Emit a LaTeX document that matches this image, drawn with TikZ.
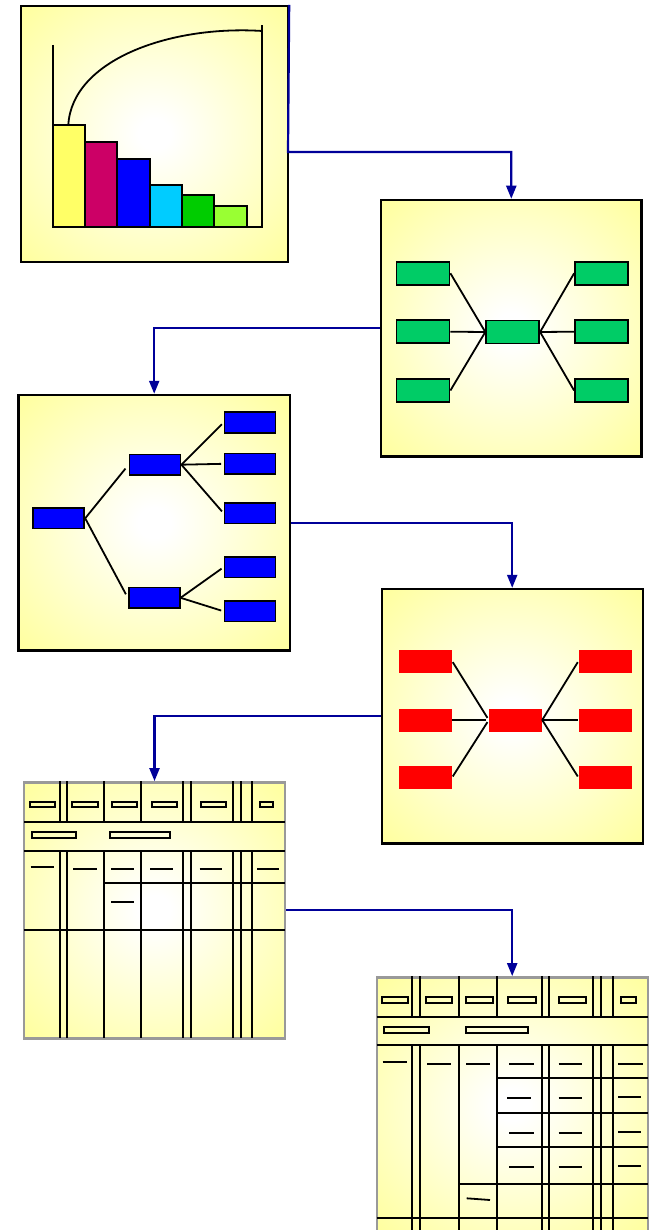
\documentclass[tikz,border=0pt]{standalone}
\usetikzlibrary{arrows.meta}
\definecolor{pyellow}{HTML}{FFFF99}
\definecolor{linkblue}{HTML}{000099}
\definecolor{boxgreen}{HTML}{00CC66}
\definecolor{framegray}{HTML}{999999}
\pgfdeclareradialshading{glow}{\pgfpoint{0bp}{0bp}}{color(0bp)=(white); color(3bp)=(white); color(37bp)=(pyellow); color(50bp)=(pyellow)}
\begin{document}
\begin{tikzpicture}[x=1pt, y=-1pt,
        panel/.style = {draw, line width=2.4pt, shading=glow, inner sep=0pt},
        grid/.style = {draw=framegray, line width=2.4pt, shading=glow, inner sep=0pt},
        gbox/.style = {draw, line width=1.8pt, fill=boxgreen, inner sep=0pt, minimum width=53pt, minimum height=23pt},
        bbox/.style = {draw, line width=1.8pt, fill=blue, inner sep=0pt, minimum width=51pt, minimum height=20.5pt},
        rbox/.style = {fill=red, inner sep=0pt, minimum width=53pt, minimum height=23pt},
        link/.style = {draw=linkblue, line width=2.2pt, -{Triangle[width=10pt,length=13pt]}},
        rule/.style = {line width=1.8pt}]
                \useasboundingbox (0,0) rectangle (651,1230);
                \clip (0,0) rectangle (651,1230);
                % the six panels
                \node[panel, minimum width=267pt, minimum height=256pt] (pareto) at (154.5,134) {};
                \node[panel, minimum width=260.7pt, minimum height=256.7pt] (fish) at (511.3,328.3) {};
                \node[panel, minimum width=271.7pt, minimum height=255.7pt] (tree) at (154.2,522.8) {};
                \node[panel, minimum width=261pt, minimum height=254.3pt] (web) at (512.2,716.2) {};
                \node[grid, minimum width=261pt, minimum height=256pt] (tab) at (154.5,910.3) {};
                \node[grid, minimum width=271pt, minimum height=256pt] (bigtab) at (512.2,1105.3) {};
                % connectors
                \coordinate (k1) at (288,152);
                \draw[link] (pareto.north east) -- (k1) -| (fish.north);
                \draw[link] (fish.west) -| (tree.north);
                \draw[link] (tree.east) -| (web.north);
                \draw[link] (web.west) -| (tab.north);
                \draw[link] (tab.east) -| (bigtab.north);
                % pareto chart
                \draw[rule, fill={rgb,255:red,255;green,255;blue,102}] (52.7,226.7) rectangle (85,125);
                \draw[rule, fill={rgb,255:red,204;green,0;blue,102}] (85,226.7) rectangle (117.3,142.3);
                \draw[rule, fill=blue] (117.3,226.7) rectangle (149.7,159);
                \draw[rule, fill={rgb,255:red,0;green,204;blue,255}] (149.7,226.7) rectangle (182,185);
                \draw[rule, fill={rgb,255:red,0;green,204;blue,0}] (182,226.7) rectangle (214.3,194.7);
                \draw[rule, fill={rgb,255:red,153;green,255;blue,51}] (214.3,226.7) rectangle (246.7,206);
                \draw[rule] (52.7,45) -- (52.7,226.7) -- (262.3,226.7) -- (262.3,25);
                \draw[rule] (68.3,125) .. controls (72,60) and (170,25) .. (262.3,31);
                % green boxes
                \node[gbox] (gl1) at (423,273.3) {};
                \node[gbox] (gl2) at (423,331.7) {};
                \node[gbox] (gl3) at (423,390.5) {};
                \node[gbox] (gc) at (512.7,332) {};
                \node[gbox] (gr1) at (601.5,273.3) {};
                \node[gbox] (gr2) at (601.5,331.7) {};
                \node[gbox] (gr3) at (601.5,390.5) {};
                \draw[rule] (gl1.east) -- (gc.west);
                \draw[rule] (gl2.east) -- (gc.west);
                \draw[rule] (gl3.east) -- (gc.west);
                \draw[rule] (gc.east) -- (gr1.west);
                \draw[rule] (gc.east) -- (gr2.west);
                \draw[rule] (gc.east) -- (gr3.west);
                % blue tree
                \node[bbox] (broot) at (58.8,518.3) {};
                \node[bbox] (bup) at (155,464.7) {};
                \node[bbox] (blow) at (154.2,597.8) {};
                \node[bbox] (bl1) at (250,422.5) {};
                \node[bbox] (bl2) at (250,463.8) {};
                \node[bbox] (bl3) at (250,513.3) {};
                \node[bbox] (bl4) at (250,567.2) {};
                \node[bbox] (bl5) at (250,611.3) {};
                \draw[rule, shorten >=5pt] (broot.east) -- (bup.west);
                \draw[rule, shorten >=4pt] (broot.east) -- (blow.west);
                \draw[rule, shorten >=2.5pt] (bup.east) -- (bl1.west);
                \draw[rule, shorten >=2.5pt] (bup.east) -- (bl2.west);
                \draw[rule, shorten >=2.5pt] (bup.east) -- (bl3.west);
                \draw[rule, shorten >=2.5pt] (blow.east) -- (bl4.west);
                \draw[rule, shorten >=2.5pt] (blow.east) -- (bl5.west);
                % red boxes
                \node[rbox] (rl1) at (425.5,661.3) {};
                \node[rbox] (rl2) at (425.5,720) {};
                \node[rbox] (rl3) at (425.5,777.3) {};
                \node[rbox] (rc) at (515.5,720) {};
                \node[rbox] (rr1) at (605,661.3) {};
                \node[rbox] (rr2) at (605,720) {};
                \node[rbox] (rr3) at (605,777.3) {};
                \draw[rule, shorten <=1pt, shorten >=2.5pt] (rl1.east) -- (rc.west);
                \draw[rule, shorten >=2.5pt] (rl2.east) -- (rc.west);
                \draw[rule, shorten <=1pt, shorten >=2.5pt] (rl3.east) -- (rc.west);
                \draw[rule, shorten >=1pt] (rc.east) -- (rr1.west);
                \draw[rule] (rc.east) -- (rr2.west);
                \draw[rule, shorten >=1pt] (rc.east) -- (rr3.west);
                % small table
                \draw[rule] (24,821.7) -- (285,821.7) (24,850.7) -- (285,850.7) (24,930) -- (285,930);
                \draw[rule] (104.3,883.3) -- (285,883.3);
                \draw[rule] (60,781) -- (60,821.7) (60,850.7) -- (60,1038.3);
                \draw[rule] (66.7,781) -- (66.7,821.7) (66.7,850.7) -- (66.7,1038.3);
                \draw[rule] (104.3,781) -- (104.3,821.7) (104.3,850.7) -- (104.3,1038.3);
                \draw[rule] (140.7,781) -- (140.7,821.7) (140.7,850.7) -- (140.7,1038.3);
                \draw[rule] (183.3,781) -- (183.3,821.7) (183.3,850.7) -- (183.3,1038.3);
                \draw[rule] (190.7,781) -- (190.7,821.7) (190.7,850.7) -- (190.7,1038.3);
                \draw[rule] (233.3,781) -- (233.3,821.7) (233.3,850.7) -- (233.3,1038.3);
                \draw[rule] (240.7,781) -- (240.7,821.7) (240.7,850.7) -- (240.7,1038.3);
                \draw[rule] (251.7,781) -- (251.7,821.7) (251.7,850.7) -- (251.7,1038.3);
                \draw[rule] (30,801.7) rectangle (55,807.3) (72.3,801.7) rectangle (97.7,807.3)
                    (111.7,801.7) rectangle (136.7,807.3) (151.7,801.7) rectangle (177.3,807.3)
                    (200.7,801.7) rectangle (225.7,807.3) (260,801.7) rectangle (273.3,807.3);
                \draw[rule] (31.7,832.3) rectangle (75.7,838) (110,832.3) rectangle (170.3,838);
                \draw[rule] (30.7,867.3) -- (54.3,867.3) (73,868.7) -- (96.7,868.7) (111,868.7) -- (134,868.7)
                    (150.3,868.7) -- (173.3,868.7) (199.7,868.7) -- (222.3,868.7) (257,868.7) -- (279.3,868.7);
                \draw[rule] (111,902.3) -- (134,902.3);
                % large table
                \draw[rule] (376.7,1016.7) -- (647.7,1016.7) (376.7,1045) -- (647.7,1045) (376.7,1218.3) -- (647.7,1218.3);
                \draw[rule] (496.7,1078.3) -- (647.7,1078.3) (496.7,1112.7) -- (647.7,1112.7) (496.7,1147.3) -- (647.7,1147.3);
                \draw[rule] (459.3,1184.3) -- (647.7,1184.3);
                \draw[rule] (412.3,976) -- (412.3,1016.7) (412.3,1045) -- (412.3,1235);
                \draw[rule] (420,976) -- (420,1016.7) (420,1045) -- (420,1235);
                \draw[rule] (459.3,976) -- (459.3,1016.7) (459.3,1045) -- (459.3,1235);
                \draw[rule] (496.7,976) -- (496.7,1016.7) (496.7,1045) -- (496.7,1235);
                \draw[rule] (541.7,976) -- (541.7,1016.7) (541.7,1045) -- (541.7,1235);
                \draw[rule] (549,976) -- (549,1016.7) (549,1045) -- (549,1235);
                \draw[rule] (593.3,976) -- (593.3,1016.7) (593.3,1045) -- (593.3,1235);
                \draw[rule] (601,976) -- (601,1016.7) (601,1045) -- (601,1235);
                \draw[rule] (612.7,976) -- (612.7,1016.7) (612.7,1045) -- (612.7,1235);
                \draw[rule] (381.7,997.3) rectangle (408.3,1002.7) (425.7,997.3) rectangle (452.3,1002.7)
                    (466,997.3) rectangle (493.3,1002.7) (508.3,997.3) rectangle (535.7,1002.7)
                    (559.3,997.3) rectangle (585.7,1002.7) (621,997.3) rectangle (635.7,1002.7);
                \draw[rule] (384,1027.3) rectangle (429.3,1033.3) (465.7,1027.3) rectangle (528.3,1033.3);
                \draw[rule] (382.7,1062.3) -- (406.7,1062.3) (427.3,1063.7) -- (450.7,1063.7) (466,1064) -- (490,1064)
                    (509.3,1064) -- (534,1064) (558.7,1064) -- (582.3,1064) (618.3,1064) -- (642.7,1064);
                \draw[rule] (507.3,1098.3) -- (530.7,1098.3) (558.7,1098.3) -- (582.3,1098.3) (618.3,1097.3) -- (641,1097.3);
                \draw[rule] (509.3,1132.7) -- (534,1132.7) (558.7,1132.7) -- (582.3,1132.7) (618.3,1131.7) -- (641,1131.7);
                \draw[rule] (509.3,1167) -- (534,1167) (558.7,1167) -- (582.3,1167) (618.3,1166) -- (641,1166);
                \draw[rule] (466.7,1198.3) -- (490,1200);
            \end{tikzpicture}
\end{document}
